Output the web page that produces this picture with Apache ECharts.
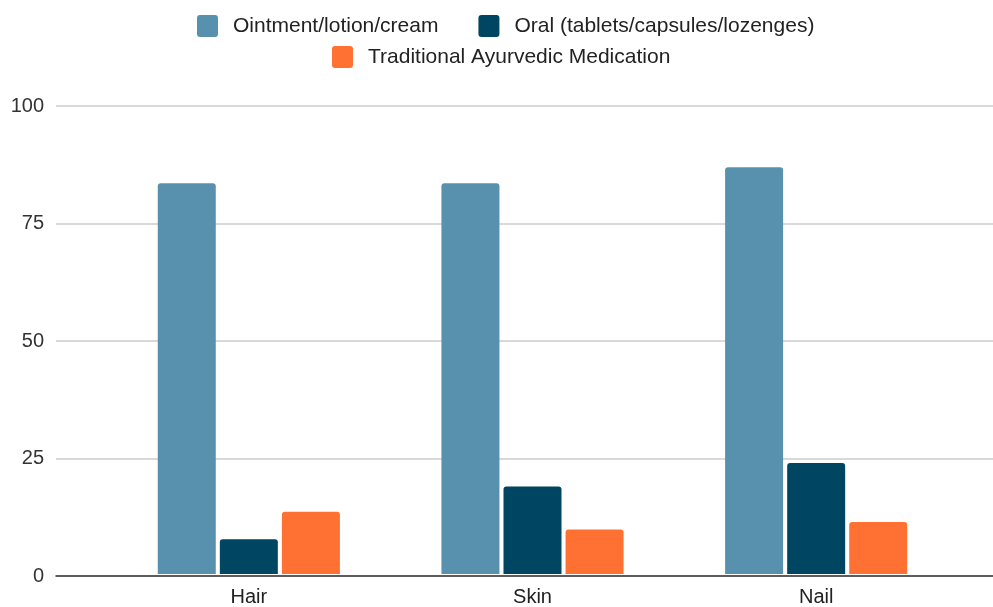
<!DOCTYPE html>
<html>
<head>
<meta charset="utf-8">
<script src="https://cdn.jsdelivr.net/npm/echarts@6/dist/echarts.min.js"></script>
<style>
  html, body { margin: 0; padding: 0; background: #fff; }
  #main { width: 993px; height: 607px; }
</style>
</head>
<body>
<div id="main"></div>
<script>
// data
var categories = ['Hair', 'Skin', 'Nail'];
var seriesNames = ['Ointment/lotion/cream', 'Oral (tablets/capsules/lozenges)', 'Traditional Ayurvedic Medication'];
var ointment = [83.5, 83.5, 86.9];
var oral = [7.4, 18.7, 23.7];
var ayurvedic = [13.3, 9.5, 11.1];
var yTicks = [0, 25, 50, 75, 100];

var colors = ['#5891ad', '#004561', '#ff7033'];
var font = '"Liberation Sans", Arial, sans-serif';

var myChart = echarts.init(document.getElementById('main'));

function barSeries(name, data, color) {
  return {
    name: name,
    type: 'bar',
    xAxisIndex: 1,
    yAxisIndex: 1,
    data: data,
    barWidth: 58,
    barGap: '7%',
    itemStyle: { color: color, borderRadius: [3, 3, 0, 0] }
  };
}

var legendText = { color: '#222', fontSize: 21, fontFamily: font, padding: [0, 0, 0, 10] };
var legendIcon = 'path://M3,0 H18 A3,3 0 0 1 21,3 V19 A3,3 0 0 1 18,22 H3 A3,3 0 0 1 0,19 V3 A3,3 0 0 1 3,0 Z';

var option = {
  animation: false,
  color: colors,
  legend: [
    {
      data: seriesNames.slice(0, 2),
      top: 10,
      left: 192,
      itemWidth: 21,
      itemHeight: 22,
      itemGap: 40,
      icon: legendIcon,
      textStyle: legendText
    },
    {
      data: seriesNames.slice(2),
      top: 41,
      left: 327,
      itemWidth: 21,
      itemHeight: 22,
      icon: legendIcon,
      textStyle: legendText
    }
  ],
  grid: [
    // full width grid: gridlines, y labels and baseline
    { left: 56, right: 0, top: 106, bottom: 31 },
    // bars
    { left: 107, right: 35, top: 106, bottom: 31 }
  ],
  xAxis: [
    {
      gridIndex: 0,
      type: 'value',
      min: 0,
      max: 1,
      axisLine: { show: true, lineStyle: { color: '#333', width: 1.5 } },
      axisTick: { show: false },
      axisLabel: { show: false },
      splitLine: { show: false }
    },
    {
      gridIndex: 1,
      type: 'category',
      data: categories,
      axisLine: { show: false },
      axisTick: { show: false },
      axisLabel: { color: '#222', fontSize: 20, fontFamily: font, margin: 13 }
    }
  ],
  yAxis: [
    {
      gridIndex: 0,
      type: 'value',
      min: yTicks[0],
      max: yTicks[yTicks.length - 1],
      interval: 25,
      axisLine: { show: false },
      axisTick: { show: false },
      axisLabel: { color: '#333', fontSize: 20, fontFamily: font, margin: 12 },
      splitLine: { lineStyle: { color: '#cccccc', width: 1.5 } }
    },
    {
      gridIndex: 1,
      type: 'value',
      min: 0,
      max: 100,
      show: false
    }
  ],
  series: [
    barSeries(seriesNames[0], ointment, colors[0]),
    barSeries(seriesNames[1], oral, colors[1]),
    barSeries(seriesNames[2], ayurvedic, colors[2])
  ]
};

myChart.setOption(option);
</script>
</body>
</html>
